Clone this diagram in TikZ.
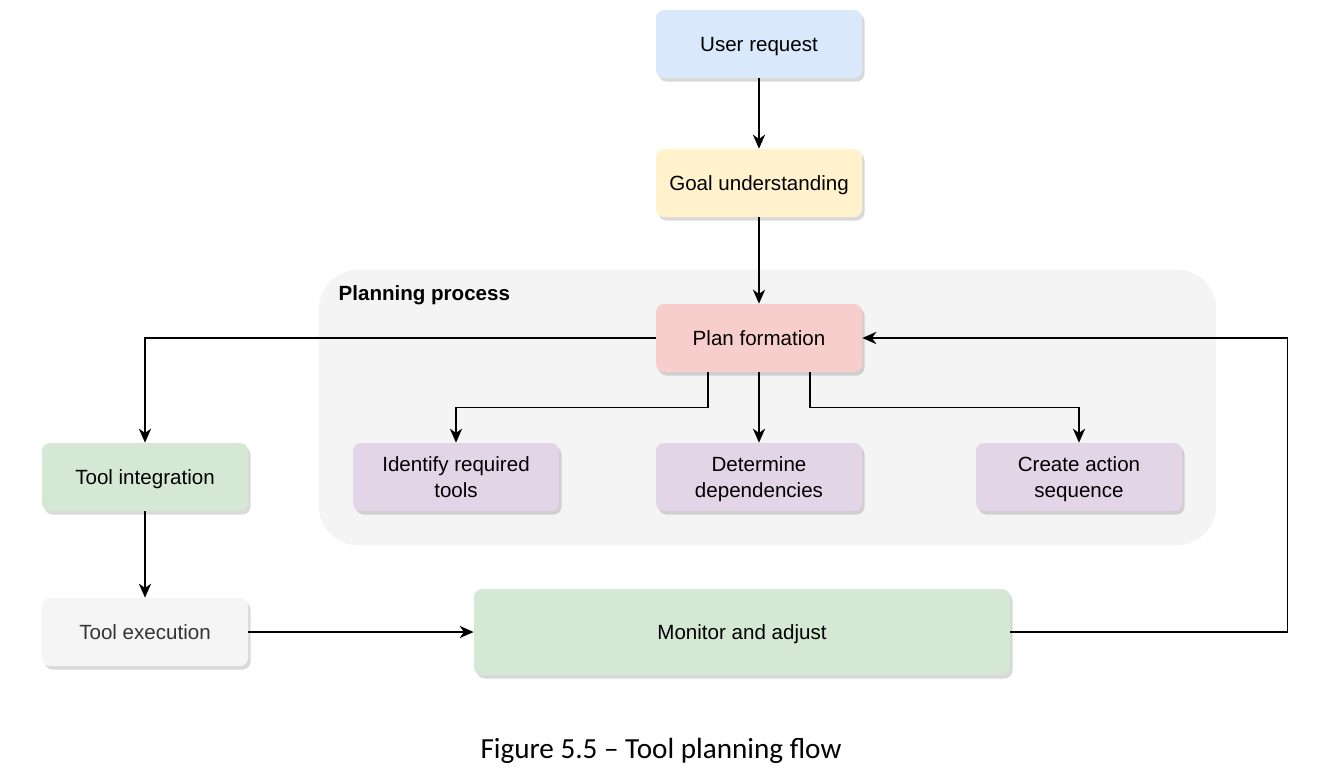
\documentclass[tikz,border=0pt]{standalone}
\usepackage{fontspec}
\setmainfont{Liberation Sans}
\newfontfamily\captionfont{Carlito}
\usetikzlibrary{positioning,fit,backgrounds,shadows,arrows.meta}

\definecolor{userblue}{HTML}{DAE8FC}
\definecolor{goalyellow}{HTML}{FFF2CC}
\definecolor{planred}{HTML}{F8CECC}
\definecolor{steppurple}{HTML}{E1D5E7}
\definecolor{toolgreen}{HTML}{D5E8D4}
\definecolor{execgrey}{HTML}{F5F5F5}
\definecolor{groupgrey}{HTML}{F4F4F4}
\definecolor{darktext}{HTML}{333333}

\tikzset{
  box/.style={rectangle, rounded corners=0.16cm, minimum width=4.12cm, minimum height=1.36cm,
    align=center, font=\fontsize{11.7}{14.8}\selectfont, text height=8.4pt, text depth=0pt,
    drop shadow={shadow xshift=0.05cm, shadow yshift=-0.07cm, opacity=0.15, fill=black}},
  twoline/.style={text height=23.2pt, text depth=0pt},
  link/.style={->, line width=0.75pt}
}

\begin{document}
\begin{tikzpicture}[node distance=2cm, on grid, >={Stealth[length=8pt,width=7pt,inset=2.5pt]}]
  \useasboundingbox (0,0) rectangle (26.74,-15.5);

  \node[box, fill=userblue] (user) at (15.18,-0.88) {User request};
  \node[box, fill=goalyellow] (goal) [below=2.78cm of user] {Goal understanding};
  \node[box, fill=planred] (plan) [below=3.1cm of goal] {Plan formation};
  \node[box, twoline, fill=steppurple] (determ) [below=2.78cm of plan] {Determine\\dependencies};
  \node[box, twoline, fill=steppurple] (ident) [left=6.06cm of determ] {Identify required\\tools};
  \node[box, twoline, fill=steppurple] (create) [right=6.4cm of determ] {Create action\\sequence};
  \node[box, fill=toolgreen] (toolint) [left=6.22cm of ident] {Tool integration};
  \node[box, fill=execgrey, text=darktext] (toolexec) [below=3.1cm of toolint] {Tool execution};
  \node[box, fill=toolgreen, minimum width=10.72cm, minimum height=1.72cm] (monitor)
    [right=11.94cm of toolexec] {Monitor and adjust};

  % planning process group
  \begin{scope}[on background layer]
    \node[fill=groupgrey, rounded corners=0.8cm, inner sep=0.68cm, fit=(plan)(ident)(create)] (process) {};
  \end{scope}
  \node[anchor=north west, inner sep=0, font=\fontsize{11.7}{14}\selectfont\bfseries]
    (processlabel) at ([xshift=0.4cm,yshift=-0.32cm]process.north west) {Planning process};

  \draw[link] (user) -- (goal);
  \draw[link] (goal) -- (plan);
  \draw[link] (plan.west) -| (toolint.north);
  \draw[link] ([xshift=-1.02cm]plan.south) -- ++(0,-0.7) -| (ident.north);
  \draw[link] (plan) -- (determ);
  \draw[link] ([xshift=1.02cm]plan.south) -- ++(0,-0.7) -| (create.north);
  \draw[link] (toolint) -- (toolexec);
  \draw[link] (toolexec) -- (monitor);
  \draw[link] (monitor.east) -- ++(5.54,0) |- (plan.east);

  \node[font=\captionfont\fontsize{16.6}{19}\selectfont] (caption) at (13.22,-15.02)
    {Figure 5.5 – Tool planning flow};
\end{tikzpicture}
\end{document}
